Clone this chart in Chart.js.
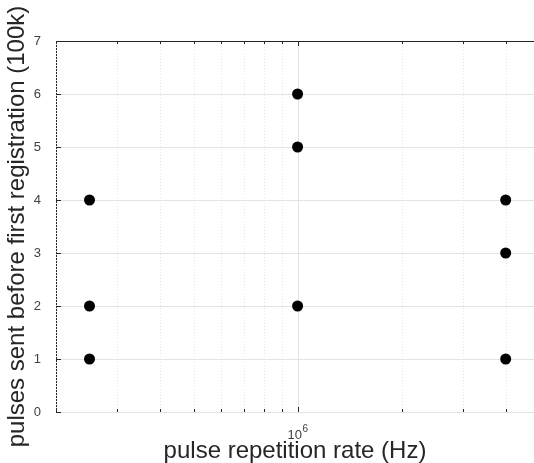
<!DOCTYPE html>
<html>
<head>
<meta charset="utf-8">
<script src="https://cdn.jsdelivr.net/npm/chart.js@4/dist/chart.umd.min.js"></script>
<style>
  html, body { margin: 0; padding: 0; background: #fff; overflow: hidden; }
  #wrap { width: 534px; height: 463px; }
</style>
</head>
<body>
<div id="wrap"><canvas id="prr" width="534" height="463"></canvas></div>
<script>
// pulse repetition rate (Hz) vs pulses sent before first registration (x 100k)
const rates  = [2.5e5, 2.5e5, 2.5e5, 1e6, 1e6, 1e6, 4e6, 4e6, 4e6];
const pulses = [1, 2, 4, 2, 5, 6, 1, 3, 4];

// log axis grid positions (minor + the one decade)
const xTicks = [2e5, 3e5, 4e5, 5e5, 6e5, 7e5, 8e5, 9e5, 1e6, 2e6, 3e6, 4e6];
const xMajor = [1e6];
const yTicks = [0, 1, 2, 3, 4, 5, 6, 7];

const axisColor = "#262626";
const fontFam = "Liberation Sans, Arial, sans-serif";

// matlab-ish grid: solid majors, dotted minors, inward tick marks
const matlabGrid = {
  id: "matlabGrid",
  beforeDatasetsDraw(chart) {
    const { ctx, chartArea: a, scales: { x, y } } = chart;
    ctx.save();
    ctx.lineWidth = 1;
    // horizontal grid
    ctx.strokeStyle = "#e3e3e3";
    yTicks.forEach(v => {
      const py = Math.round(y.getPixelForValue(v)) + 0.5;
      ctx.beginPath(); ctx.moveTo(a.left, py); ctx.lineTo(a.right, py); ctx.stroke();
    });
    // vertical grid
    xTicks.forEach(v => {
      const px = Math.round(x.getPixelForValue(v)) + 0.5;
      const major = xMajor.includes(v);
      ctx.strokeStyle = major ? "#e3e3e3" : "#e6e6e6";
      ctx.setLineDash(major ? [] : [1, 2]);
      ctx.beginPath(); ctx.moveTo(px, a.top); ctx.lineTo(px, a.bottom); ctx.stroke();
    });
    ctx.setLineDash([]);
    ctx.restore();
  },
  afterDraw(chart) {
    const { ctx, chartArea: a, scales: { x, y } } = chart;
    ctx.save();
    ctx.strokeStyle = axisColor;
    ctx.lineWidth = 1;
    // top box line
    ctx.beginPath(); ctx.moveTo(a.left, a.top + 0.5); ctx.lineTo(a.right, a.top + 0.5); ctx.stroke();
    // x ticks inward, bottom and top
    xTicks.forEach(v => {
      const px = Math.round(x.getPixelForValue(v)) + 0.5;
      const len = xMajor.includes(v) ? 5 : 3;
      ctx.beginPath();
      ctx.moveTo(px, a.bottom); ctx.lineTo(px, a.bottom - len);
      ctx.moveTo(px, a.top); ctx.lineTo(px, a.top + len);
      ctx.stroke();
    });
    // y ticks inward
    yTicks.forEach(v => {
      const py = Math.round(y.getPixelForValue(v)) + 0.5;
      ctx.beginPath(); ctx.moveTo(a.left, py); ctx.lineTo(a.left + 5, py); ctx.stroke();
    });
    // decade label with a real superscript
    ctx.fillStyle = "#404040";
    ctx.textBaseline = "alphabetic";
    xMajor.forEach(v => {
      const px = x.getPixelForValue(v);
      const exp = String(Math.round(Math.log10(v)));
      ctx.font = "13px " + fontFam;
      const wb = ctx.measureText("10").width;
      ctx.font = "10px " + fontFam;
      const we = ctx.measureText(exp).width;
      const left = px - (wb + we) / 2;
      ctx.font = "13px " + fontFam;
      ctx.textAlign = "left";
      ctx.fillText("10", left, a.bottom + 27);
      ctx.font = "10px " + fontFam;
      ctx.fillText(exp, left + wb + 0.5, a.bottom + 20);
    });
    ctx.restore();
  }
};

const ctx = document.getElementById("prr").getContext("2d");

new Chart(ctx, {
  type: "scatter",
  data: {
    datasets: [{
      data: rates.map((r, i) => ({ x: r, y: pulses[i] })),
      backgroundColor: "#000",
      borderColor: "#000",
      borderWidth: 0,
      pointRadius: 5.5,
      pointHoverRadius: 5.5,
      clip: false
    }]
  },
  options: {
    responsive: false,
    devicePixelRatio: 1,
    animation: false,
    layout: { autoPadding: false, padding: { top: 41, right: 0, left: 0, bottom: 0 } },
    plugins: {
      legend: { display: false },
      tooltip: { enabled: false }
    },
    scales: {
      x: {
        type: "logarithmic",
        min: 2e5,
        max: 4.83e6,
        afterBuildTicks: s => { s.ticks = xTicks.map(v => ({ value: v })); },
        afterFit: s => { s.height = 51; },
        grid: { display: false, drawTicks: false },
        border: { display: true, color: axisColor, width: 1 },
        ticks: {
          autoSkip: false,
          maxRotation: 0,
          callback: () => ""
        },
        title: {
          display: true,
          text: "pulse repetition rate (Hz)",
          color: axisColor,
          padding: 0,
          font: { family: fontFam, size: 24, lineHeight: 1 }
        }
      },
      y: {
        min: 0,
        max: 7,
        afterFit: s => { s.width = 56; },
        grid: { display: false, drawTicks: false },
        border: { display: true, color: axisColor, width: 1 },
        ticks: {
          stepSize: 1,
          padding: 15,
          color: "#404040",
          font: { family: fontFam, size: 13 }
        },
        title: {
          display: true,
          text: "pulses sent before first registration (100k)",
          color: axisColor,
          padding: { top: 5, bottom: 0 },
          font: { family: fontFam, size: 24, lineHeight: 1 }
        }
      }
    }
  },
  plugins: [matlabGrid]
});
</script>
</body>
</html>
